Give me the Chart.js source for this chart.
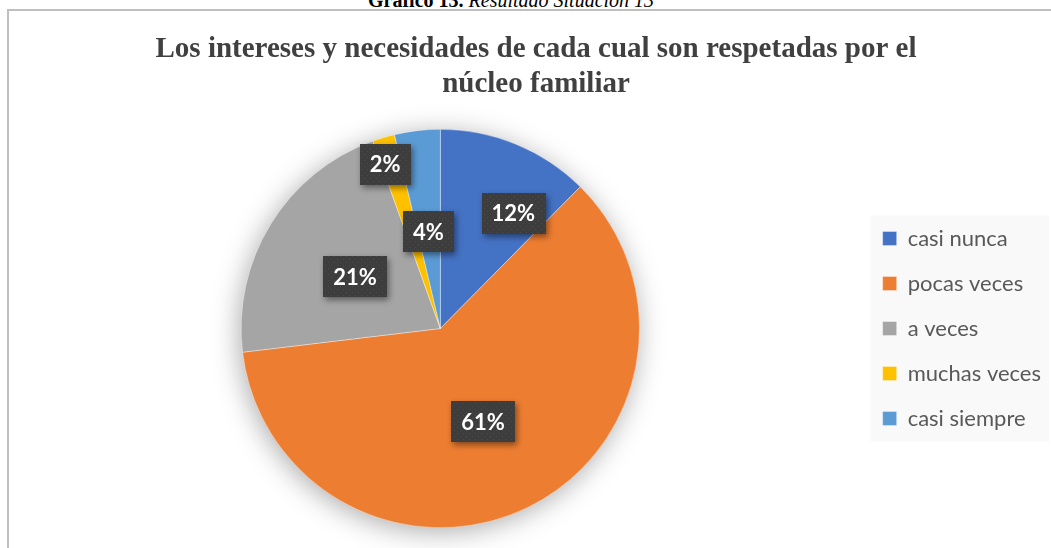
<!DOCTYPE html>
<html><head><meta charset="utf-8">
<script src="https://cdn.jsdelivr.net/npm/chart.js@4.4.1/dist/chart.umd.min.js"></script>
<style>
html,body{margin:0;padding:0;background:#fff;overflow:hidden;}
#wrap{position:absolute;left:0;top:0;width:1051px;height:548px;overflow:hidden;}
#frame{position:absolute;left:7px;top:9px;width:1100px;height:600px;border-left:2px solid #bfbfbf;border-top:2px solid #bfbfbf;}
#cap{position:absolute;left:368px;top:-10px;font-family:'Liberation Serif',serif;font-size:20px;line-height:20px;color:#000;white-space:nowrap;}
#c{position:absolute;left:0;top:0;}
</style></head>
<body>
<div id="wrap">
<div id="cap"><b>Gráfico 13.</b> <i>Resultado Situación 13</i></div>
<div id="frame"></div>
<canvas id="c" width="1051" height="548"></canvas>
</div>
<script>
const categories = ['casi nunca','pocas veces','a veces','muchas veces','casi siempre'];
const values = [12.4, 60.7, 21.4, 1.8, 3.7];
const colors = ['#4472C4','#ED7D31','#A5A5A5','#FFC000','#5B9BD5'];
const titleLines = ['Los intereses y necesidades de cada cual son respetadas por el','núcleo familiar'];
// label placement per slice: radius fraction and angle offset (degrees)
const labelRadius = [0.685, 0.515, 0.50, 0.87, 0.49];
const labelShift = [10, 1.5, -0.5, -2, -0.4];

function makePattern(ctx){
  const p = document.createElement('canvas'); p.width = 6; p.height = 6;
  const g = p.getContext('2d');
  g.fillStyle = '#3d3d3d'; g.fillRect(0,0,6,6);
  g.fillStyle = '#4b4b4b'; g.fillRect(1,1,1,1); g.fillRect(4,4,1,1);
  return ctx.createPattern(p,'repeat');
}

const pieShadow = {
  id:'pieShadow',
  beforeDatasetsDraw(chart){
    const a = chart.getDatasetMeta(0).data[0];
    if(!a) return;
    const ctx = chart.ctx;
    ctx.save();
    ctx.shadowColor = 'rgba(0,0,0,0.35)';
    ctx.shadowBlur = 28;
    ctx.shadowOffsetX = -2;
    ctx.shadowOffsetY = 4;
    ctx.fillStyle = '#ffffff';
    ctx.beginPath();
    ctx.arc(a.x, a.y, a.outerRadius-1, 0, Math.PI*2);
    ctx.fill();
    ctx.restore();
  }
};

const legendBg = {
  id:'legendBg',
  beforeDraw(chart){
    const lg = chart.legend;
    if(!lg || !lg.legendHitBoxes || !lg.legendHitBoxes.length) return;
    const hb = lg.legendHitBoxes;
    const first = hb[0], last = hb[hb.length-1];
    const ctx = chart.ctx;
    ctx.save();
    ctx.fillStyle = '#f9f9f9';
    const l = first.left - 12;
    const t = first.top - 12;
    ctx.fillRect(l, t, 1049 - l, last.top + 34 - t);
    ctx.restore();
  }
};

const dataLabels = {
  id:'dataLabels',
  afterDatasetsDraw(chart){
    const ctx = chart.ctx;
    const meta = chart.getDatasetMeta(0);
    const pat = makePattern(ctx);
    ctx.save();
    ctx.font = "bold 22px 'Lato', 'Open Sans', sans-serif";
    meta.data.forEach((arc,i)=>{
      const mid = (arc.startAngle + arc.endAngle)/2 + labelShift[i]*Math.PI/180;
      const r = arc.outerRadius * labelRadius[i];
      const cx = arc.x + Math.cos(mid)*r;
      const cy = arc.y + Math.sin(mid)*r;
      const txt = Math.round(values[i]) + '%';
      const w = ctx.measureText(txt).width + 20;
      const h = 41;
      ctx.save();
      ctx.shadowColor = 'rgba(0,0,0,0.45)';
      ctx.shadowBlur = 6; ctx.shadowOffsetX = 2; ctx.shadowOffsetY = 3;
      ctx.fillStyle = pat;
      ctx.fillRect(Math.round(cx - w/2), Math.round(cy - h/2), Math.round(w), h);
      ctx.restore();
      ctx.fillStyle = '#ffffff';
      ctx.textAlign = 'center';
      ctx.textBaseline = 'middle';
      ctx.fillText(txt, cx, cy + 1);
    });
    ctx.restore();
  }
};

new Chart(document.getElementById('c'), {
  type:'pie',
  data:{ labels:categories, datasets:[{ data:values, backgroundColor:colors, borderColor:'rgba(255,255,255,0.6)', borderWidth:0.6 }] },
  options:{
    responsive:false, animation:false,
    layout:{ padding:{ left:21, right:0, top:0, bottom:20 } },
    plugins:{
      tooltip:{enabled:false},
      title:{ display:true, text:titleLines, color:'#404040',
        font:{ family:"'Liberation Serif', serif", size:29, weight:'bold', lineHeight:1.207 },
        padding:{ top:32, bottom:27 } },
      legend:{ position:'right', align:'center', fullSize:false,
        labels:{ boxWidth:14, boxHeight:14, padding:23, color:'#595959',
          font:{ family:"'Lato', sans-serif", size:22 } } }
    }
  },
  plugins:[legendBg, pieShadow, dataLabels]
});
</script>
</body></html>
